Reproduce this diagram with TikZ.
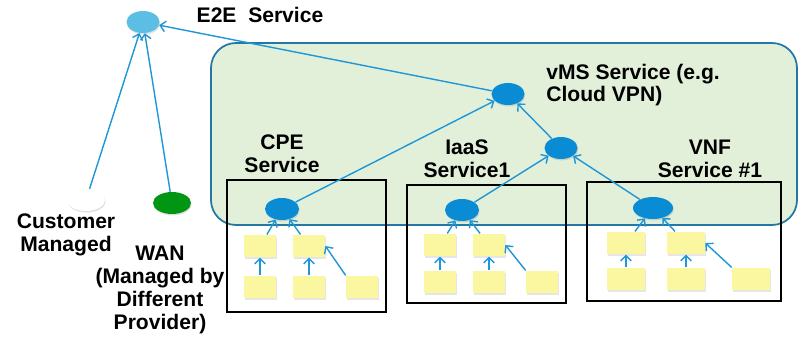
\documentclass[tikz,border=0pt]{standalone}
\usepackage{fontspec}
\setmainfont{Liberation Sans}
\usetikzlibrary{shapes.geometric,shadows,arrows.meta}

\definecolor{svcblue}{RGB}{10,140,212}
\definecolor{topblue}{RGB}{92,190,226}
\definecolor{wangreen}{RGB}{0,150,20}
\definecolor{linkblue}{RGB}{30,150,215}
\definecolor{domfill}{RGB}{226,240,218}
\definecolor{domline}{RGB}{35,120,165}
\definecolor{resyellow}{RGB}{250,247,160}

\tikzset{
  svc/.style={ellipse, fill=svcblue, minimum width=6.6mm, minimum height=4.4mm,
    inner sep=0pt, drop shadow={opacity=0.25,shadow xshift=0.4pt,shadow yshift=-0.8pt}},
  res/.style={rectangle, fill=resyellow, minimum height=4.5mm, inner sep=0pt,
    drop shadow={opacity=0.2,shadow xshift=0.6pt,shadow yshift=-1pt}},
  lnk/.style={draw=linkblue, line width=0.8pt, -{Straight Barb[length=3pt,width=6pt]}},
  lbl/.style={font=\fontsize{12}{13}\selectfont\bfseries, align=center, inner sep=0pt},
}

\begin{document}
\begin{tikzpicture}[x=0.02cm,y=-0.02cm]
  \useasboundingbox (0,0) rectangle (802,337);
  % managed service domain
  \draw[domline, fill=domfill, line width=1pt, rounded corners=5mm] (211,43) rectangle (797,225);
  % the three service boxes
  \draw[line width=1.1pt] (227,180) rectangle (386,312);
  \draw[line width=1.1pt] (407,185) rectangle (566,303);
  \draw[line width=1.1pt] (587,182) rectangle (781,301);

  % service nodes
  \node[svc, fill=topblue] (e2e) at (143,22) {};
  \node[svc] (vms) at (508,94) {};
  \node[svc] (agg) at (561,148) {};
  \node[svc, fill=white, minimum width=7.6mm] (cust) at (86,200) {};
  \node[svc, fill=wangreen, minimum width=7.6mm] (wan) at (172,203) {};

  % labels
  \node[lbl] (e2etxt) at (260,15) {E2E\ \ Service};
  \node[lbl, anchor=west, align=left] (vmstxt) at (546,85) {vMS Service (e.g.\\Cloud VPN)};
  \node[lbl] (cpetxt) at (282,154) {CPE\\Service};
  \node[lbl] (iaastxt) at (467,159) {IaaS\\Service1};
  \node[lbl] (vnftxt) at (710,159) {VNF\\Service \#1};
  \node[lbl] (custtxt) at (66,235) {Customer\\Managed};
  \node[lbl] (wantxt) at (160,290) {WAN\\(Managed by\\Different\\Provider)};

  % resources in each box
  \foreach \b/\nx/\ny/\c/\d/\e/\t/\u/\w in {p/282/209/260/309/362/246/287/32,
      i/462/210/440/489/542/245/282/32, v/653/208/626/686/751/243/279/38} {
    \node[svc, minimum width=\w*0.2mm+0.4mm] (\b s) at (\nx,\ny) {};
    \node[res, minimum width=\w*0.2mm] (\b t1) at (\c,\t) {};
    \node[res, minimum width=\w*0.2mm] (\b t2) at (\d,\t) {};
    \node[res, minimum width=\w*0.2mm] (\b b1) at (\c,\u) {};
    \node[res, minimum width=\w*0.2mm] (\b b2) at (\d,\u) {};
    \node[res, minimum width=\w*0.2mm] (\b b3) at (\e,\u) {};
    \draw[lnk] (\b t1) -- (\b s);
    \draw[lnk] (\b t2) -- (\b s);
    \draw[lnk] (\b b1) -- (\b t1);
    \draw[lnk] (\b b2) -- (\b t2);
    \draw[lnk] (\b b3.north west) -- (\b t2.east);
  }

  % links up the tree
  \draw[lnk] (ps) -- (vms);
  \draw[lnk] (is) -- (agg);
  \draw[lnk] (vs) -- (agg);
  \draw[lnk] (agg) -- (vms);
  \draw[lnk] (vms) -- (e2e);
  \draw[lnk] (cust) -- (e2e);
  \draw[lnk] (wan) -- (e2e);
\end{tikzpicture}
\end{document}
